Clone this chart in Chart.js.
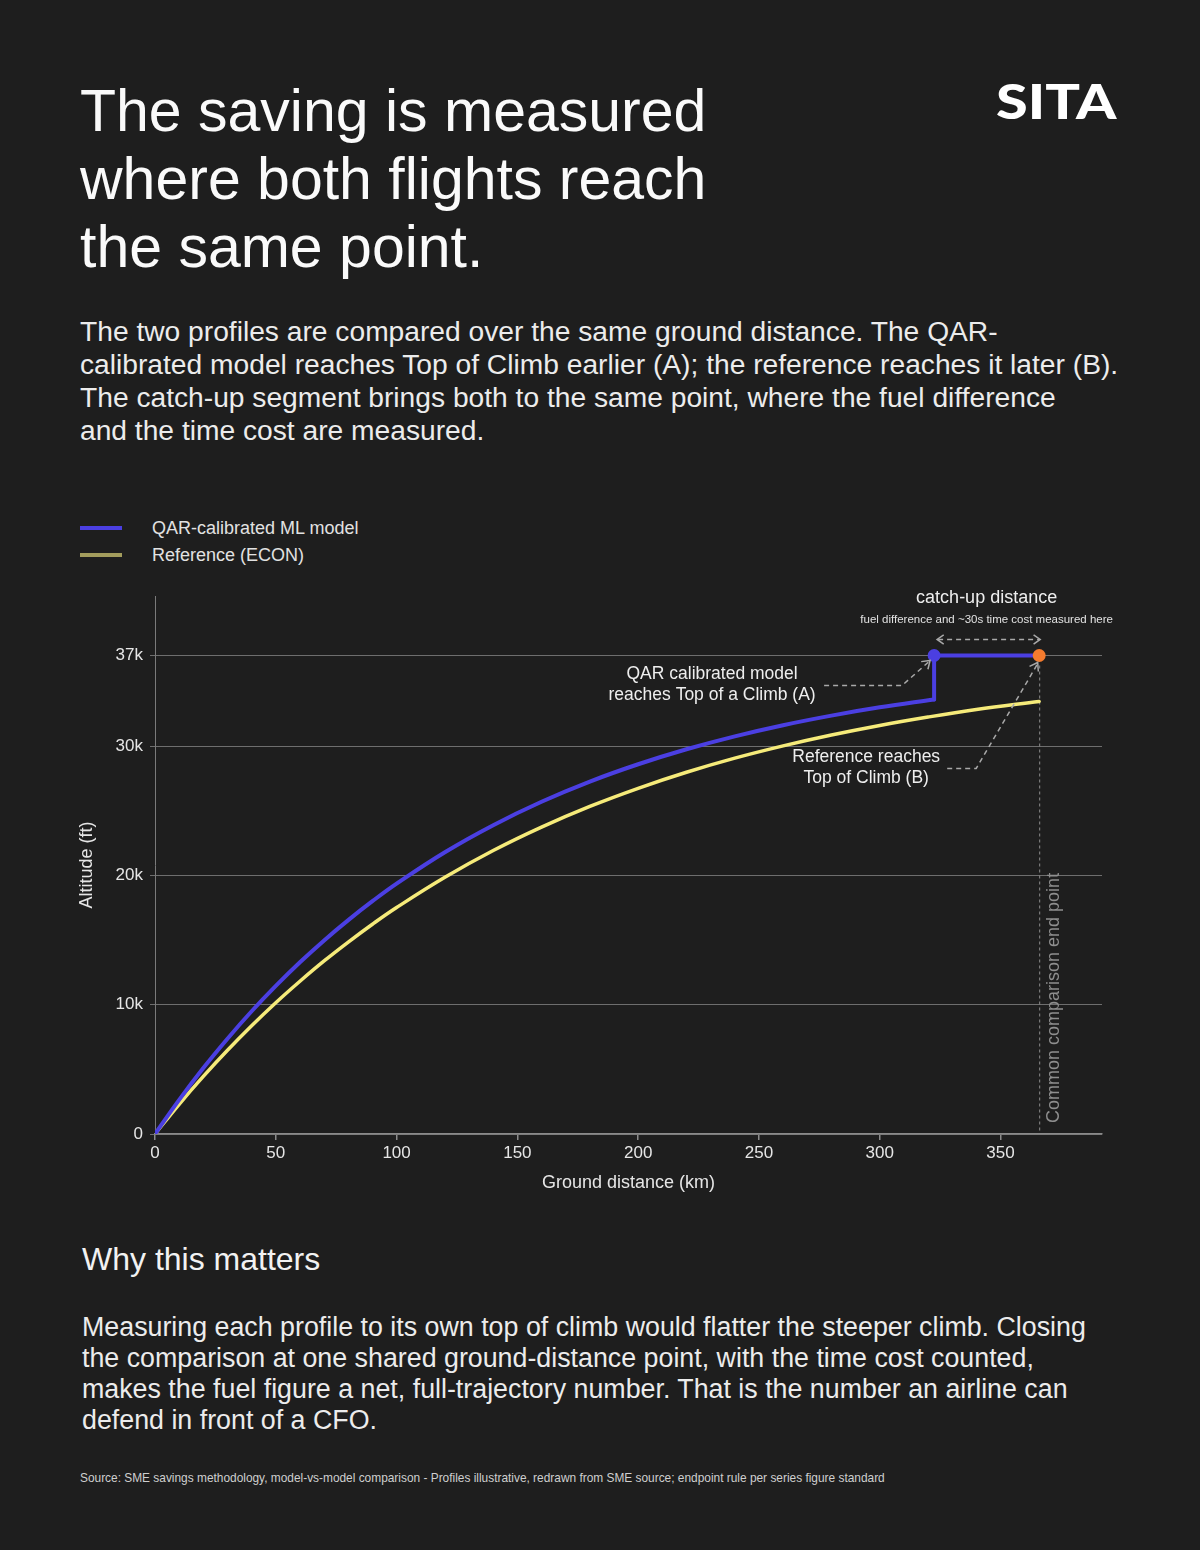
<!DOCTYPE html>
<html>
<head>
<meta charset="utf-8">
<script src="https://cdn.jsdelivr.net/npm/chart.js@4.4.1/dist/chart.umd.min.js"></script>
<style>
  html, body { margin: 0; padding: 0; background: #1e1e1e; }
  body { width: 1200px; height: 1550px; position: relative; overflow: hidden;
         font-family: "Liberation Sans", Arial, sans-serif; color: #f2f2f2; }
  .abs { position: absolute; }
  #title { left: 80px; top: 77px; font-size: 59px; line-height: 68px; color: #fafafa; white-space: nowrap; }
  #logo { left: 996px; top: 73px; font-family: "Lato", "Inter", sans-serif; font-weight: 900; font-size: 48px; letter-spacing: 0px; color: #ffffff; line-height: 56px; transform: scaleX(1.2); transform-origin: left top; }
  #intro { left: 80px; top: 315px; width: 1100px; font-size: 28.2px; line-height: 33px; color: #ececec; white-space: nowrap; }
  #legend { left: 80px; top: 516px; }
  .lg { position: relative; height: 27px; font-size: 18px; line-height: 24px; color: #e2e2e2; }
  .lg .sw { position: absolute; left: 0; top: 10px; width: 42px; height: 4px; }
  .lg .tx { position: absolute; left: 72px; top: 0; white-space: nowrap; }
  #chartWrap { left: 0; top: 570px; width: 1200px; height: 627px; }
  #why { left: 82px; top: 1240px; font-size: 32px; line-height: 38px; color: #f2f2f2; }
  #body2 { left: 82px; top: 1312px; font-size: 26.8px; line-height: 31px; color: #ececec; white-space: nowrap; }
  #source { left: 80px; top: 1471px; font-size: 11.9px; line-height: 14px; color: #cfcfcf; white-space: nowrap; }
</style>
</head>
<body>
<div id="title" class="abs">The saving is measured<br>where both flights reach<br>the same point.</div>
<div id="logo" class="abs">SITA</div>
<div id="intro" class="abs">The two profiles are compared over the same ground distance. The QAR-<br>calibrated model reaches Top of Climb earlier (A); the reference reaches it later (B).<br>The catch-up segment brings both to the same point, where the fuel difference<br>and the time cost are measured.</div>
<div id="legend" class="abs"></div>
<div id="chartWrap" class="abs"><canvas id="c"></canvas></div>
<div id="why" class="abs">Why this matters</div>
<div id="body2" class="abs">Measuring each profile to its own top of climb would flatter the steeper climb. Closing<br>the comparison at one shared ground-distance point, with the time cost counted,<br>makes the fuel figure a net, full-trajectory number. That is the number an airline can<br>defend in front of a CFO.</div>
<div id="source" class="abs">Source: SME savings methodology, model-vs-model comparison - Profiles illustrative, redrawn from SME source; endpoint rule per series figure standard</div>

<script>
// ---------- DATA ----------
const seriesNames = ["QAR-calibrated ML model", "Reference (ECON)"];

// QAR-calibrated ML model climb (ground distance km, altitude ft)
const qarDistance = [0, 10, 20, 30, 40, 50, 60, 70, 80, 90, 100, 120, 140, 160, 180, 200, 220, 240, 260, 280, 300, 322.5];
const qarAltitude = [0, 2640, 5100, 7370, 9490, 11450, 13280, 14970, 16540, 18000, 19360, 21790, 23880, 25690, 27250, 28590, 29750, 30750, 31610, 32350, 32990, 33600];

// Reference (ECON) climb
const refDistance = [0, 10, 20, 30, 40, 50, 60, 70, 80, 90, 100, 120, 140, 160, 180, 200, 220, 240, 260, 280, 300, 320, 340, 366];
const refAltitude = [0, 2300, 4450, 6470, 8370, 10150, 11810, 13380, 14840, 16220, 17510, 19850, 21920, 23730, 25330, 26730, 27970, 29060, 30010, 30850, 31590, 32240, 32820, 33450];

// Catch-up segment of the QAR model: step to cruise at A, then level to the common end point
const catchupDistance = [322.5, 322.5, 366];
const catchupAltitude = [33600, 37000, 37000];

const qarTopOfClimbKm = 322.5;
const commonEndKm = 366;
const cruiseAltitude = 37000;

const yTickValues = [0, 10000, 20000, 30000, 37000];
const xTickStep = 50;
const xMax = 392;
const yMax = 41600;

const colors = { qar: "#4b3fe2", ref: "#f6eb7a", refLegend: "#a39d5d", end: "#f47b2e" };

// ---------- LEGEND ----------
const legendItems = [
  { label: seriesNames[0], color: colors.qar },
  { label: seriesNames[1], color: colors.refLegend }
];
const lg = document.getElementById("legend");
legendItems.forEach(it => {
  const d = document.createElement("div");
  d.className = "lg";
  d.innerHTML = '<div class="sw" style="background:' + it.color + '"></div><div class="tx">' + it.label + '</div>';
  lg.appendChild(d);
});

const toXY = (xs, ys) => xs.map((x, i) => ({ x: x, y: ys[i] }));

// ---------- ANNOTATION PLUGINS ----------
function chevron(ctx, tipX, tipY, angle, size) {
  ctx.save();
  ctx.setLineDash([]);
  ctx.beginPath();
  ctx.moveTo(tipX - size * Math.cos(angle - 0.6), tipY - size * Math.sin(angle - 0.6));
  ctx.lineTo(tipX, tipY);
  ctx.lineTo(tipX - size * Math.cos(angle + 0.6), tipY - size * Math.sin(angle + 0.6));
  ctx.stroke();
  ctx.restore();
}

const annotationsBack = {
  id: "annotationsBack",
  beforeDatasetsDraw(chart) {
    const { ctx, scales: { x, y } } = chart;
    const ex = x.getPixelForValue(commonEndKm);
    const cy = y.getPixelForValue(cruiseAltitude);
    const by = y.getPixelForValue(0);
    ctx.save();
    ctx.strokeStyle = "#8d8d8d";
    ctx.lineWidth = 1;
    ctx.setLineDash([3, 3]);
    ctx.beginPath();
    ctx.moveTo(ex + 0.5, cy + 10);
    ctx.lineTo(ex + 0.5, by);
    ctx.stroke();
    ctx.setLineDash([]);
    ctx.translate(ex + 15, by - 11);
    ctx.rotate(-Math.PI / 2);
    ctx.fillStyle = "#8e8e8e";
    ctx.font = '18px "Liberation Sans", Arial, sans-serif';
    ctx.textAlign = "left";
    ctx.textBaseline = "middle";
    ctx.fillText("Common comparison end point", 0, 0);
    ctx.restore();
  }
};

const annotationsFront = {
  id: "annotationsFront",
  afterDatasetsDraw(chart) {
    const { ctx, scales: { x, y } } = chart;
    const ax = x.getPixelForValue(qarTopOfClimbKm);
    const ex = x.getPixelForValue(commonEndKm);
    const cy = y.getPixelForValue(cruiseAltitude);
    ctx.save();
    ctx.lineCap = "butt";
    ctx.strokeStyle = "#a9a9a9";
    ctx.lineWidth = 1.5;
    const ay = cy - 16;
    ctx.setLineDash([5, 4]);
    ctx.beginPath();
    ctx.moveTo(ax + 4, ay);
    ctx.lineTo(ex, ay);
    ctx.stroke();
    chevron(ctx, ax + 3, ay, Math.PI, 8);
    chevron(ctx, ex + 1, ay, 0, 8);

    ctx.setLineDash([]);
    ctx.textAlign = "center";
    ctx.textBaseline = "middle";
    ctx.fillStyle = "#eeeeee";
    ctx.font = '18px "Liberation Sans", Arial, sans-serif';
    ctx.fillText("catch-up distance", (ax + ex) / 2, cy - 57);
    ctx.font = '11.5px "Liberation Sans", Arial, sans-serif';
    ctx.fillStyle = "#e2e2e2";
    ctx.fillText("fuel difference and ~30s time cost measured here", (ax + ex) / 2, cy - 36);

    ctx.font = '17.5px "Liberation Sans", Arial, sans-serif';
    ctx.fillStyle = "#eeeeee";
    ctx.fillText("QAR calibrated model", ax - 222, cy + 19);
    ctx.fillText("reaches Top of a Climb (A)", ax - 222, cy + 40);
    ctx.strokeStyle = "#a9a9a9";
    ctx.lineWidth = 1.5;
    ctx.setLineDash([5, 4]);
    ctx.beginPath();
    ctx.moveTo(ax - 110, cy + 30);
    ctx.lineTo(ax - 32, cy + 30);
    ctx.lineTo(ax - 5, cy + 6);
    ctx.stroke();
    chevron(ctx, ax - 4, cy + 5, Math.atan2(-24, 27), 9);

    ctx.setLineDash([]);
    ctx.fillStyle = "#eeeeee";
    ctx.fillText("Reference reaches", ex - 173, cy + 102);
    ctx.fillText("Top of Climb (B)", ex - 173, cy + 123);
    ctx.setLineDash([5, 4]);
    ctx.beginPath();
    ctx.moveTo(ex - 92, cy + 113);
    ctx.lineTo(ex - 63, cy + 113);
    ctx.lineTo(ex - 2, cy + 9);
    ctx.stroke();
    chevron(ctx, ex - 1.5, cy + 7, Math.atan2(-104, 61), 9);
    ctx.restore();
  }
};

// ---------- CHART ----------
Chart.defaults.font.family = '"Liberation Sans", Arial, sans-serif';
Chart.defaults.color = "#e4e4e4";

new Chart(document.getElementById("c"), {
  type: "line",
  data: {
    datasets: [
      {
        label: seriesNames[1],
        data: toXY(refDistance, refAltitude),
        borderColor: colors.ref,
        borderWidth: 3.5,
        pointRadius: 0,
        tension: 0.4,
        borderCapStyle: "round",
        order: 3
      },
      {
        label: seriesNames[0],
        data: toXY(qarDistance, qarAltitude),
        borderColor: colors.qar,
        borderWidth: 4,
        pointRadius: 0,
        tension: 0.4,
        borderCapStyle: "round",
        order: 2
      },
      {
        label: seriesNames[0] + " catch-up",
        data: toXY(catchupDistance, catchupAltitude),
        borderColor: colors.qar,
        borderWidth: 4,
        tension: 0,
        borderJoinStyle: "round",
        borderCapStyle: "round",
        pointRadius: [0, 6.5, 6.5],
        pointHoverRadius: [0, 6.5, 6.5],
        pointBackgroundColor: [colors.qar, colors.qar, colors.end],
        pointBorderWidth: 0,
        order: 1
      }
    ]
  },
  options: {
    responsive: true,
    maintainAspectRatio: false,
    animation: false,
    events: [],
    layout: { padding: { left: 60, right: 98, top: 26, bottom: 0 } },
    plugins: { legend: { display: false }, tooltip: { enabled: false } },
    scales: {
      x: {
        type: "linear",
        min: 0,
        max: xMax,
        afterFit(scale) { scale.height = 63; },
        ticks: { stepSize: xTickStep, includeBounds: false, padding: 3, color: "#e6e6e6", font: { size: 17, lineHeight: 1.2 } },
        grid: { drawOnChartArea: false, drawTicks: true, tickLength: 6, color: "#8a8a8a", lineWidth: 1.5 },
        border: { display: true, color: "#8a8a8a", width: 1.5 },
        title: { display: true, text: "Ground distance (km)", color: "#e6e6e6", font: { size: 18, lineHeight: 1.2 }, padding: { top: 0, bottom: 3 } }
      },
      y: {
        type: "linear",
        min: 0,
        max: yMax,
        afterFit(scale) { scale.width = 95; },
        afterBuildTicks(scale) { scale.ticks = yTickValues.map(v => ({ value: v })); },
        ticks: {
          padding: 7,
          color: "#e6e6e6",
          font: { size: 17, lineHeight: 1.2 },
          callback: v => (v === 0 ? "0" : (v / 1000) + "k")
        },
        grid: { drawOnChartArea: true, drawTicks: true, tickLength: 5, color: "#6e6e6e", lineWidth: 1 },
        border: { display: true, color: "#7a7a7a", width: 1 },
        title: { display: true, text: "Altitude (ft)", color: "#e6e6e6", font: { size: 18, lineHeight: 1.2 }, padding: { top: 16, bottom: 0 } }
      }
    }
  },
  plugins: [annotationsBack, annotationsFront]
});
</script>
</body>
</html>
